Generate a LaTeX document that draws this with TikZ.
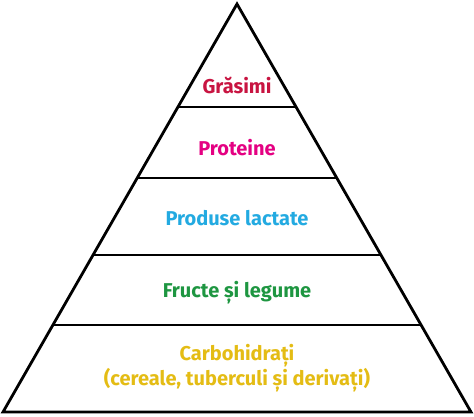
\documentclass[tikz,border=0pt]{standalone}
\usepackage{fontspec}
\setmainfont{Fira Sans}
\usetikzlibrary{calc}
\definecolor{cfat}{RGB}{200,20,65}
\definecolor{cprot}{RGB}{228,0,130}
\definecolor{cdairy}{RGB}{35,170,225}
\definecolor{cfruit}{RGB}{30,150,65}
\definecolor{ccarb}{RGB}{228,188,20}
\tikzset{
  edge/.style={line width=2.8pt, line join=miter, black},
  lbl/.style={font=\fontsize{20}{25}\selectfont\bfseries, align=center, inner sep=0pt}
}
\begin{document}
\begin{tikzpicture}[x=1pt,y=-1pt]
\useasboundingbox (0,0) rectangle (474,416);
\coordinate (A) at (237,4);
\coordinate (B) at (3,412);
\coordinate (C) at (471,412);
\foreach \n/\t in {1/0.2525,2/0.4265,3/0.6152,4/0.7868}{
  \coordinate (L\n) at ($(A)!\t!(B)$);
  \coordinate (R\n) at ($(A)!\t!(C)$);
}
\draw[edge] (A) -- (B) -- (C) -- cycle;
\foreach \n in {1,2,3,4}{ \draw[edge] (L\n) -- (R\n); }
\node[lbl, text=cfat] (fat) at (237,85) {Grăsimi};
\node[lbl, text=cprot] (prot) at (237,148) {Proteine};
\node[lbl, text=cdairy] (dairy) at (237,218) {Produse lactate};
\node[lbl, text=cfruit] (fruit) at (237,293) {Fructe și legume};
\node[lbl, text=ccarb] (carb) at (237,368) {Carbohidrați\\(cereale, tuberculi și derivați)};
\end{tikzpicture}
\end{document}
